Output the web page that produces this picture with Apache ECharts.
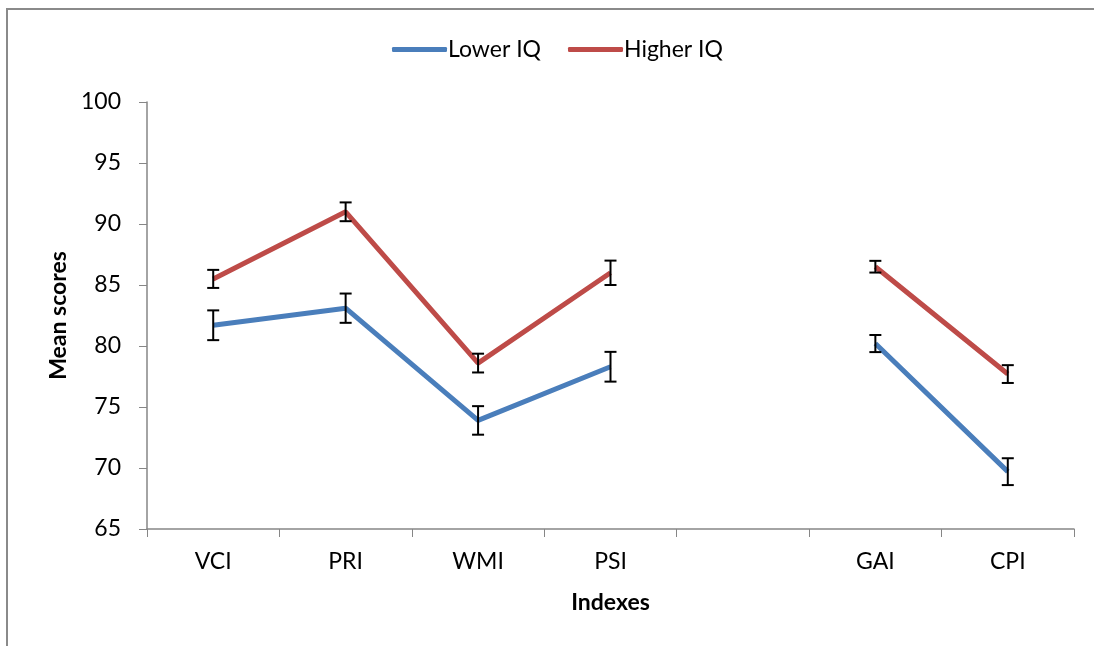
<!DOCTYPE html>
<html>
<head>
<meta charset="utf-8">
<script src="https://cdn.jsdelivr.net/npm/echarts@6/dist/echarts.min.js"></script>
<style>
html,body{margin:0;padding:0;background:#fff;}
#chart{width:1094px;height:646px;}
</style>
</head>
<body>
<div id="chart"></div>
<script>
const categories = ['VCI', 'PRI', 'WMI', 'PSI', '', 'GAI', 'CPI'];
const lowerIQ = [81.7, 83.1, 73.9, 78.3, null, 80.2, 69.7];
const lowerErr = [1.22, 1.2, 1.17, 1.22, null, 0.7, 1.1];
const higherIQ = [85.5, 91.0, 78.6, 86.0, null, 86.5, 77.7];
const higherErr = [0.74, 0.77, 0.77, 1.0, null, 0.48, 0.73];
const yTicks = [65, 70, 75, 80, 85, 90, 95, 100];

const FONT = 'Lato, "Open Sans", sans-serif';

function errData(vals, errs) {
  const out = [];
  vals.forEach((v, i) => {
    if (v != null) out.push([i, v - errs[i], v + errs[i]]);
  });
  return out;
}

function errRender(params, api) {
  const x = api.value(0);
  const lo = api.coord([x, api.value(1)]);
  const hi = api.coord([x, api.value(2)]);
  const cap = 6;
  const style = { stroke: '#000', lineWidth: 2 };
  return {
    type: 'group',
    children: [
      { type: 'line', shape: { x1: lo[0], y1: lo[1], x2: hi[0], y2: hi[1] }, style },
      { type: 'line', shape: { x1: lo[0] - cap, y1: lo[1], x2: lo[0] + cap, y2: lo[1] }, style },
      { type: 'line', shape: { x1: hi[0] - cap, y1: hi[1], x2: hi[0] + cap, y2: hi[1] }, style }
    ]
  };
}

const chart = echarts.init(document.getElementById('chart'));
chart.setOption({
  animation: false,
  backgroundColor: '#fff',
  textStyle: { fontFamily: FONT },
  graphic: [{
    type: 'rect',
    shape: { x: 7, y: 9, width: 1200, height: 800 },
    style: { fill: 'none', stroke: '#8a8a8a', lineWidth: 2 },
    silent: true
  }],
  legend: {
    top: 33,
    left: 387,
    itemWidth: 55,
    itemHeight: 5,
    itemGap: 27,
    icon: 'roundRect',
    textStyle: { fontSize: 23, color: '#000', fontFamily: FONT, padding: [0, 0, 0, -4] },
    data: ['Lower IQ', 'Higher IQ']
  },
  grid: { left: 147, right: 20, top: 102, bottom: 117 },
  xAxis: {
    type: 'category',
    data: categories,
    boundaryGap: true,
    name: 'Indexes',
    nameLocation: 'middle',
    nameGap: 62,
    nameTextStyle: { fontSize: 23, fontWeight: 'bold', color: '#000', fontFamily: FONT },
    axisLine: { lineStyle: { color: '#868686', width: 1.5 } },
    axisTick: { show: true, interval: 0, length: 8, lineStyle: { color: '#868686' } },
    axisLabel: { interval: 0, fontSize: 23, color: '#000', margin: 21, fontFamily: FONT },
    splitLine: { show: false }
  },
  yAxis: {
    type: 'value',
    min: 65,
    max: 100,
    interval: 5,
    name: 'Mean scores',
    nameLocation: 'middle',
    nameGap: 71,
    nameRotate: 90,
    nameTextStyle: { fontSize: 23, fontWeight: 'bold', color: '#000', fontFamily: FONT },
    axisLine: { show: true, lineStyle: { color: '#868686', width: 1.5 } },
    axisTick: { show: true, length: 8, lineStyle: { color: '#868686' } },
    axisLabel: {
      fontSize: 23, color: '#000', margin: 26, fontFamily: FONT,
      formatter: v => yTicks.includes(v) ? String(v) : ''
    },
    splitLine: { show: false }
  },
  series: [
    {
      name: 'Lower IQ',
      type: 'line',
      data: lowerIQ,
      connectNulls: false,
      showSymbol: false,
      symbol: 'none',
      color: '#4A7EBB',
      lineStyle: { color: '#4A7EBB', width: 5 },
      z: 2
    },
    {
      name: 'Higher IQ',
      type: 'line',
      data: higherIQ,
      connectNulls: false,
      showSymbol: false,
      symbol: 'none',
      color: '#BE4B48',
      lineStyle: { color: '#BE4B48', width: 5 },
      z: 2
    },
    {
      type: 'custom',
      renderItem: errRender,
      data: errData(lowerIQ, lowerErr),
      encode: { x: 0, y: [1, 2] },
      z: 3
    },
    {
      type: 'custom',
      renderItem: errRender,
      data: errData(higherIQ, higherErr),
      encode: { x: 0, y: [1, 2] },
      z: 3
    }
  ]
});
</script>
</body>
</html>
